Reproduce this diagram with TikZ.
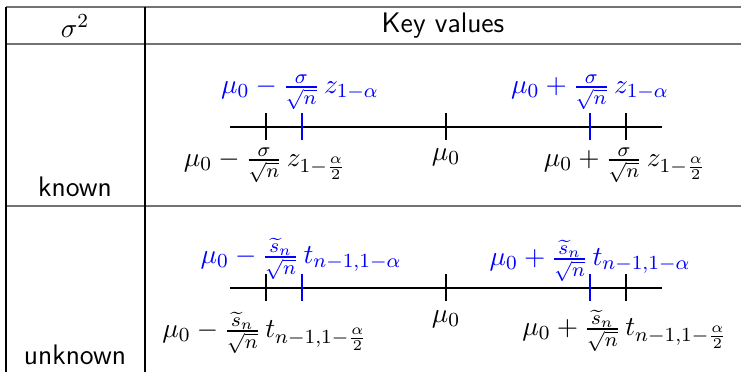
\documentclass[tikz,border=0pt]{standalone}
\usepackage{amsmath}
\begin{document}
\begin{tikzpicture}[x=0.4pt,y=-0.4pt,
  hrule/.style={draw=black!55,line width=0.8pt},
  vrule/.style={draw=black,line width=0.6pt},
  txt/.style={font=\fontsize{11.3}{13.5}\selectfont\sffamily,inner sep=0pt},
  mlab/.style={font=\fontsize{11.3}{13.5}\selectfont,inner sep=0pt},
  blab/.style={mlab,text=blue},
  axis/.style={draw=black,line width=1pt},
  ktick/.style={draw=black,line width=0.8pt},
  btick/.style={draw=blue,line width=0.8pt}]
\useasboundingbox (0,0) rectangle (741,372);
% table rules
\draw[hrule] (6,7) -- (741,7);
\draw[hrule] (6,44) -- (741,44);
\draw[hrule] (6,206) -- (741,206);
\draw[vrule] (6,7) -- (6,372);
\draw[vrule] (145,7) -- (145,372);
% headers
\node[txt] (hs) at (75,26) {$\sigma^2$};
\node[txt] (hk) at (443,26) {Key values};
\node[txt] (known) at (75,187) {known};
\node[txt] (unknown) at (75,355) {unknown};
% row 1
\coordinate (a1) at (230,127);
\coordinate (b1) at (662,127);
\draw[axis] (a1) -- (b1);
\foreach \x/\n in {266/kl1,446/km1,626/kr1} {\draw[ktick] (\x,113.5) -- (\x,140.5);}
\foreach \x in {302,590} {\draw[btick] (\x,113.5) -- (\x,140.5);}
\node[blab] (bl1) at (300,92) {$\mu_0 - \frac{\sigma}{\sqrt{n}}\, z_{1-\alpha}$};
\node[blab] (br1) at (590,92) {$\mu_0 + \frac{\sigma}{\sqrt{n}}\, z_{1-\alpha}$};
\node[mlab] (ll1) at (265,165) {$\mu_0 - \frac{\sigma}{\sqrt{n}}\, z_{1-\frac{\alpha}{2}}$};
\node[mlab] (m1) at (446,157) {$\mu_0$};
\node[mlab] (lr1) at (625,165) {$\mu_0 + \frac{\sigma}{\sqrt{n}}\, z_{1-\frac{\alpha}{2}}$};
% row 2
\coordinate (a2) at (230,288);
\coordinate (b2) at (662,288);
\draw[axis] (a2) -- (b2);
\foreach \x in {266,446,626} {\draw[ktick] (\x,274.5) -- (\x,301.5);}
\foreach \x in {302,590} {\draw[btick] (\x,274.5) -- (\x,301.5);}
\node[blab] (bl2) at (301,259) {$\mu_0 - \frac{\widetilde{s}_n}{\sqrt{n}}\, t_{n-1,1-\alpha}$};
\node[blab] (br2) at (590,261) {$\mu_0 + \frac{\widetilde{s}_n}{\sqrt{n}}\, t_{n-1,1-\alpha}$};
\node[mlab] (ll2) at (265,333) {$\mu_0 - \frac{\widetilde{s}_n}{\sqrt{n}}\, t_{n-1,1-\frac{\alpha}{2}}$};
\node[mlab] (m2) at (446,319) {$\mu_0$};
\node[mlab] (lr2) at (625,331) {$\mu_0 + \frac{\widetilde{s}_n}{\sqrt{n}}\, t_{n-1,1-\frac{\alpha}{2}}$};
\end{tikzpicture}
\end{document}
